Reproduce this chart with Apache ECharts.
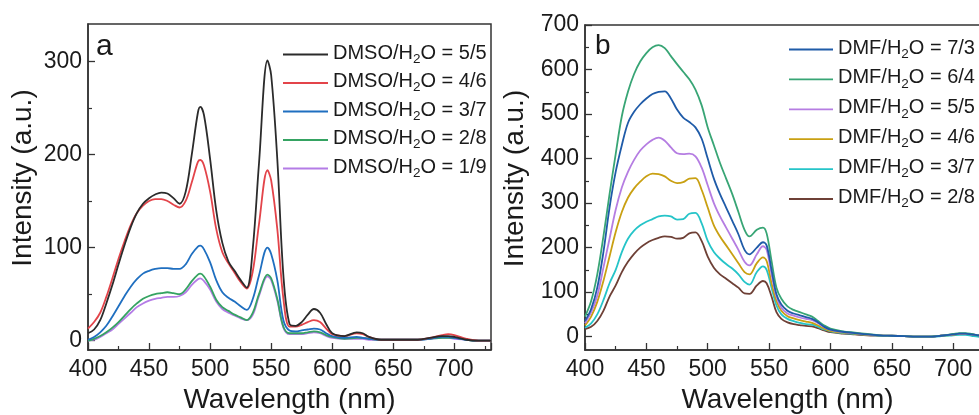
<!DOCTYPE html>
<html><head><meta charset="utf-8">
<script src="https://cdn.jsdelivr.net/npm/echarts@6/dist/echarts.min.js"></script>
<style>html,body{margin:0;padding:0;background:#fff}#c{width:979px;height:415px}</style>
</head><body><div id="c"></div>
<script>
// ---- Panel a data ----
const wlA = [400,405,410,415,420,425,430,435,440,445,450,455,460,465,470,475,480,485,490,492,495,500,505,510,515,520,525,530,535,540,547,550,555,560,565,570,575,580,585,590,595,600,610,620,625,630,640,650,660,670,680,690,695,700,710,720,730];
const dmso55 = [8,12,22,40,60,82,103,122,137,147,153,157,159,158,153,147,160,200,245,251,242,195,140,105,85,75,65,57,100,190,301,285,195,70,18,16,20,28,34,30,18,8,5,9,8,4,1,1,1,1,3,5,5,4,1,0,0];
const dmso46 = [13,20,30,47,67,88,107,124,137,145,150,152,152,150,146,143,150,170,192,194,188,160,120,95,83,73,63,56,75,125,183,172,120,45,15,15,17,20,22,20,13,7,5,8,7,4,1,1,1,1,3,6,7,6,2,0,0];
const dmso37 = [1,4,9,16,26,37,48,58,66,72,75,77,78,78,77,77,82,93,101,102,98,84,65,52,46,42,37,33,45,70,100,93,65,22,11,10,11,12,13,12,8,5,3,4,3,2,1,1,1,1,2,4,4,3,1,0,0];
const dmso28 = [0,2,5,9,14,20,27,34,40,45,48,50,51,52,51,50,55,64,71,72,69,58,44,36,32,28,25,22,30,50,71,67,45,15,8,8,8,9,10,9,6,4,2,3,3,2,1,1,1,1,2,3,3,3,1,0,0];
const dmso19 = [0,1,4,8,12,18,24,30,36,40,43,45,46,47,47,48,52,60,66,67,64,55,42,34,30,27,24,22,28,48,69,65,43,14,7,7,7,8,9,8,5,3,2,2,2,1,1,1,1,1,2,3,3,2,1,0,0];
const namesA = ['DMSO/H2O = 5/5','DMSO/H2O = 4/6','DMSO/H2O = 3/7','DMSO/H2O = 2/8','DMSO/H2O = 1/9'];
const colorsA = ['#2b2b2b','#e3444a','#1f6fc0','#35a362','#b47ce6'];

// ---- Panel b data ----
const wlB = [400,405,410,415,420,425,430,435,440,445,450,455,460,465,470,475,480,485,490,495,500,505,510,515,520,525,530,534,540,545,548,552,556,560,565,570,575,580,585,590,595,600,610,620,630,640,650,660,670,680,690,700,705,710,715,720,730];
const dmf73 = [35,62,110,190,290,370,430,480,505,522,535,545,550,551,535,510,492,482,470,445,400,355,320,290,260,230,195,185,200,212,205,150,95,72,58,52,48,44,40,32,22,16,11,8,5,3,2,1,0,0,2,5,7,7,5,3,0];
const dmf64 = [45,80,140,225,320,410,495,550,590,618,637,650,655,648,630,612,595,578,555,520,470,430,390,355,320,280,240,225,240,245,232,170,110,85,68,60,55,50,45,35,25,18,12,9,6,3,2,1,0,0,2,6,8,8,6,3,0];
const dmf55 = [30,55,92,155,220,285,335,370,397,418,432,442,447,440,425,412,410,411,405,380,340,300,270,245,220,195,168,160,185,203,195,140,90,65,52,47,43,40,37,30,21,15,10,8,5,3,2,1,0,0,2,5,7,7,5,3,0];
const dmf46 = [25,45,78,125,180,235,280,312,333,348,360,366,365,360,350,345,347,355,356,330,290,250,225,205,185,165,145,140,165,178,170,120,80,58,46,41,37,34,31,25,18,13,9,7,4,3,2,1,0,0,2,4,6,6,5,3,0];
const dmf37 = [20,30,50,82,120,150,190,220,238,250,258,264,270,272,270,263,264,276,278,255,215,190,175,163,153,140,123,117,145,158,150,110,70,50,40,35,31,28,27,22,16,12,8,6,4,2,1,1,0,0,1,3,4,4,2,0,-3];
const dmf28 = [17,22,35,58,90,115,145,168,186,200,210,217,222,225,224,220,222,232,234,215,180,155,140,130,120,110,97,96,115,125,120,90,55,40,32,28,26,24,23,19,14,10,7,5,3,2,1,1,0,0,2,4,6,6,5,3,0];
const namesB = ['DMF/H2O = 7/3','DMF/H2O = 6/4','DMF/H2O = 5/5','DMF/H2O = 4/6','DMF/H2O = 3/7','DMF/H2O = 2/8'];
const colorsB = ['#1f5ba8','#38a575','#b57de2','#c9a012','#25c4c8','#6e4036'];

const FONT = "'Liberation Sans', Arial, sans-serif";
const INK = '#1a1a1a';
const AXC = '#333';

function zip(xs, ys){ return xs.map((x,i)=>[x, ys[i]]); }

function xAx(g){
  return {type:'value', gridIndex:g, min:400, max:730, interval:50,
    axisLine:{show:true, onZero:false, lineStyle:{color:AXC, width:1.5}},
    axisTick:{show:true, inside:true, length:7, lineStyle:{color:AXC, width:1.3}},
    minorTick:{show:true, splitNumber:2, length:4, lineStyle:{color:AXC, width:1.2}},
    axisLabel:{fontSize:23, color:INK, margin:8, fontFamily:FONT, showMaxLabel:false},
    splitLine:{show:false},
    name:'Wavelength (nm)', nameLocation:'middle', nameGap:34,
    nameTextStyle:{fontSize:28, color:INK, fontFamily:FONT}};
}
function yMain(g, min, max, labels, gap){
  return {type:'value', gridIndex:g, min:min, max:max,
    axisLine:{show:true, onZero:false, lineStyle:{color:AXC, width:1.5}},
    axisTick:{show:true, inside:true, length:7, customValues:labels, lineStyle:{color:AXC, width:1.3}},
    axisLabel:{fontSize:23, color:INK, margin:6, fontFamily:FONT, customValues:labels},
    splitLine:{show:false},
    name:'Intensity (a.u.)', nameLocation:'middle', nameGap:gap,
    nameTextStyle:{fontSize:28, color:INK, fontFamily:FONT, padding:[0,0,0,18]}};
}
function yMinor(g, min, max, vals){
  return {type:'value', gridIndex:g, min:min, max:max, position:'left',
    axisLine:{show:false},
    axisTick:{show:true, inside:true, length:4, customValues:vals, lineStyle:{color:AXC, width:1.2}},
    axisLabel:{show:false}, splitLine:{show:false}};
}

const ticksA = [0,100,200,300];
const minorA = [50,150,250];
const ticksB = [0,100,200,300,400,500,600,700];
const minorB = [50,150,250,350,450,550,650];

function fmt(name){
  const i = name.indexOf('H2O');
  return '{a|' + name.slice(0,i) + 'H}{s|2}{a|O' + name.slice(i+3) + '}{z| }';
}
const rich = {
  a:{fontSize:20, lineHeight:21, color:INK, fontFamily:FONT, verticalAlign:'top'},
  s:{fontSize:13.5, lineHeight:12, color:INK, fontFamily:FONT, verticalAlign:'bottom'},
  z:{fontSize:1, lineHeight:23, verticalAlign:'top'}
};

const series = [];
namesA.forEach((n,i)=>{
  const data = [dmso55, dmso46, dmso37, dmso28, dmso19][i];
  series.push({name:n, type:'line', xAxisIndex:0, yAxisIndex:0, data:zip(wlA, data),
    symbol:'none', showSymbol:false, smooth:0.35, z: 10-i,
    lineStyle:{width:1.8, color:colorsA[i]}, itemStyle:{color:colorsA[i]}});
});
namesB.forEach((n,i)=>{
  const data = [dmf73, dmf64, dmf55, dmf46, dmf37, dmf28][i];
  series.push({name:n, type:'line', xAxisIndex:1, yAxisIndex:2, data:zip(wlB, data),
    symbol:'none', showSymbol:false, smooth:0.35, z: 10-i,
    lineStyle:{width:1.8, color:colorsB[i]}, itemStyle:{color:colorsB[i]}});
});

const chart = echarts.init(document.getElementById('c'), null, {renderer:'canvas'});
chart.setOption({
  animation:false,
  backgroundColor:'#ffffff',
  grid:[
    {left:88, top:24, width:403, height:326, show:true, borderColor:AXC, borderWidth:1.5, containLabel:false, outerBoundsMode:'none'},
    {left:585, top:25, width:405, height:325, show:true, borderColor:AXC, borderWidth:1.5, containLabel:false, outerBoundsMode:'none'}
  ],
  xAxis:[xAx(0), xAx(1)],
  yAxis:[yMain(0,-10,340,ticksA,51), yMinor(0,-10,340,minorA), yMain(1,-30,700,ticksB,56), yMinor(1,-30,700,minorB)],
  legend:[
    {data:namesA, orient:'vertical', left:283, top:43, padding:0, itemWidth:45, itemHeight:14, itemGap:5.5,
     formatter:fmt, textStyle:{rich:rich}, selectedMode:false, icon:'path://M0,0 L45,0 L45,1.8 L0,1.8 Z'},
    {data:namesB, orient:'vertical', left:789, top:38, padding:0, itemWidth:44, itemHeight:14, itemGap:6.9,
     formatter:fmt, textStyle:{rich:rich}, selectedMode:false, icon:'path://M0,0 L44,0 L44,1.8 L0,1.8 Z'}
  ],
  graphic:[
    {type:'text', left:96, top:32, style:{text:'a', fontSize:30, fill:INK, fontFamily:FONT}},
    {type:'text', left:595, top:32, style:{text:'b', fontSize:28, fill:INK, fontFamily:FONT}}
  ],
  series:series
});
</script></body></html>
